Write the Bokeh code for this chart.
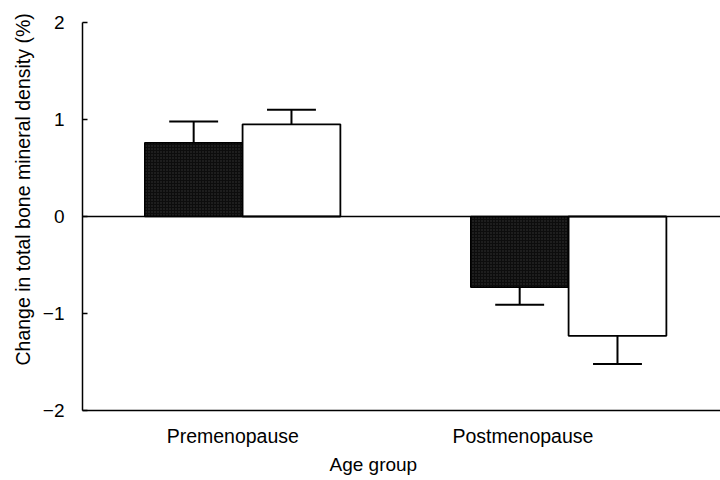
import numpy as np
from bokeh.plotting import figure
from bokeh.models import Range1d, FixedTicker, Span, ColumnDataSource, Title
from bokeh.embed import file_html
from bokeh.resources import INLINE

# ---- data ----
groups = ["Premenopause", "Postmenopause"]
series_dark = [0.76, -0.73]
series_white = [0.95, -1.23]
err_dark = [0.22, 0.18]
err_white = [0.15, 0.29]
y_ticks = [-2, -1, 0, 1, 2]
y_tick_labels = ["\u22122", "\u22121", "0", "1", "2"]
x_title = "Age group"
y_title = "Change in total bone mineral density (%)"

# ---- layout constants ----
idx = np.arange(len(groups))
bar_w = 0.30
off = 0.15
cap_w = 0.15
label_shift = [-0.03, -0.14]
FONT = "Liberation Sans"

p = figure(width=720, height=480, output_backend="svg", toolbar_location=None,
           x_range=Range1d(-0.491, 1.466), y_range=Range1d(-2, 2))
p.min_border_left = 82
p.min_border_top = 22
p.min_border_right = 0
p.min_border_bottom = 70
p.outline_line_color = None
p.xgrid.visible = False
p.ygrid.visible = False
p.background_fill_color = "white"
p.border_fill_color = "white"

def bars(vals, errs, dx, dark):
    vals = np.array(vals, dtype=float)
    errs = np.array(errs, dtype=float)
    x = idx + dx
    ends = vals + np.sign(vals) * errs
    src = ColumnDataSource(dict(x=x, top=vals, bottom=np.zeros_like(vals),
                                ends=ends, c0=x - cap_w / 2, c1=x + cap_w / 2))
    p.segment(x0="x", y0="top", x1="x", y1="ends", source=src, line_color="black", line_width=2)
    p.segment(x0="c0", y0="ends", x1="c1", y1="ends", source=src, line_color="black", line_width=2)
    if dark:
        p.vbar(x="x", top="top", bottom="bottom", width=bar_w, source=src,
               fill_color="#0d0d0d", line_color="black", line_width=1.5,
               hatch_pattern="dot", hatch_color="#9a9a9a", hatch_scale=3,
               hatch_weight=1, hatch_alpha=0.3)
    else:
        p.vbar(x="x", top="top", bottom="bottom", width=bar_w, source=src,
               fill_color="white", line_color="black", line_width=1.8)

bars(series_dark, err_dark, -off, True)
bars(series_white, err_white, off, False)

p.add_layout(Span(location=0, dimension="width", line_color="black", line_width=1.5))

# y axis
ya = p.yaxis[0]
ya.ticker = FixedTicker(ticks=y_ticks)
ya.major_label_overrides = {t: l for t, l in zip(y_ticks, y_tick_labels)}
ya.major_tick_in = 5
ya.major_tick_out = 0
ya.minor_tick_line_color = None
ya.axis_line_width = 1.5
ya.major_tick_line_width = 1.5
ya.major_label_standoff = 18
ya.major_label_text_font = FONT
ya.major_label_text_font_size = "19px"
ya.major_label_text_color = "black"

p.add_layout(Title(text=y_title, align="left", offset=45, standoff=12,
                   text_font=FONT, text_font_size="19.5px", text_font_style="normal",
                   text_color="black"), "left")

# x axis
xa = p.xaxis[0]
pos = [float(i + s) for i, s in zip(idx, label_shift)]
xa.ticker = FixedTicker(ticks=pos)
xa.major_label_overrides = {q: g for q, g in zip(pos, groups)}
xa.major_tick_line_color = None
xa.minor_tick_line_color = None
xa.axis_line_width = 1.5
xa.major_label_standoff = 8
xa.major_label_text_font = FONT
xa.major_label_text_font_size = "19.5px"
xa.major_label_text_color = "black"

p.add_layout(Title(text=x_title, align="left", offset=247, standoff=4,
                   text_font=FONT, text_font_size="19px", text_font_style="normal",
                   text_color="black"), "below")

open("out.html", "w").write(file_html(p, INLINE))
